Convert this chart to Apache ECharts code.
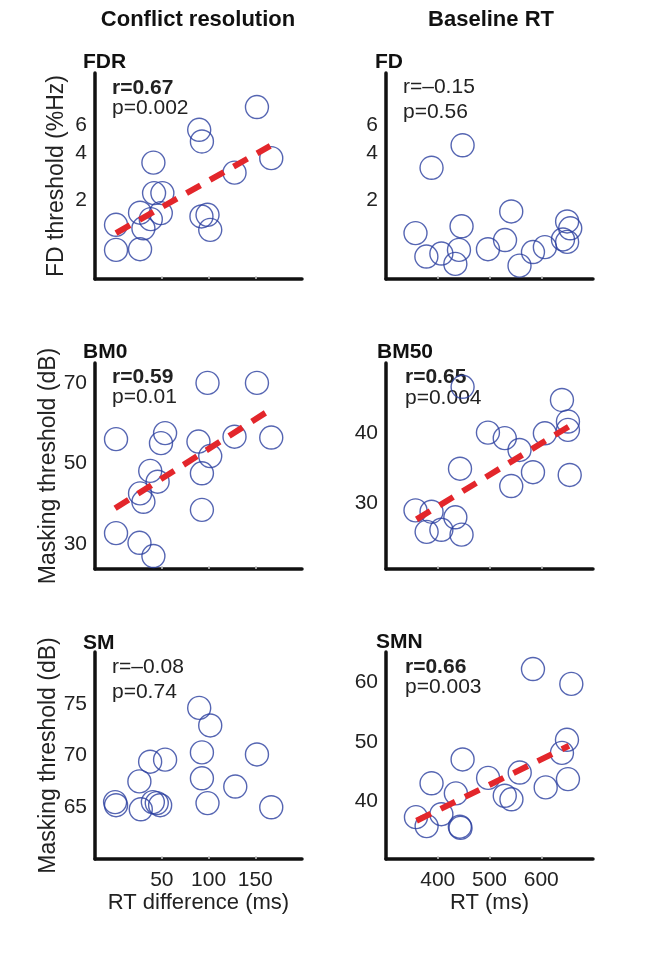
<!DOCTYPE html>
<html><head><meta charset="utf-8">
<script src="https://cdn.jsdelivr.net/npm/echarts@6/dist/echarts.min.js"></script>
<style>html,body{margin:0;padding:0;background:#fff}#c{width:664px;height:967px}</style>
</head><body><div id="c"></div><script>
const FONT = '"Liberation Sans", Arial, Helvetica, sans-serif';
const columnHeaders = ['Conflict resolution', 'Baseline RT'];
const panelTitles = ['FDR', 'FD', 'BM0', 'BM50', 'SM', 'SMN'];
const statR = ['r=0.67', 'r=–0.15', 'r=0.59', 'r=0.65', 'r=–0.08', 'r=0.66'];
const statP = ['p=0.002', 'p=0.56', 'p=0.01', 'p=0.004', 'p=0.74', 'p=0.003'];
const significant = [true, false, true, true, false, true];
const yNames = ['FD threshold (%Hz)', 'Masking threshold (dB)', 'Masking threshold (dB)'];
const xNames = ['RT difference (ms)', 'RT (ms)'];

const xTicksLeft = [50, 100, 150];
const xTicksRight = [400, 500, 600];
const yTicks = [[2, 4, 6], [2, 4, 6], [30, 50, 70], [30, 40], [65, 70, 75], [40, 50, 60]];

// FDR
const fdrX = [1, 1, 26.7, 26.7, 30.3, 38.2, 48.9, 41.0, 41.7, 50.6, 90.0, 92.9, 92.4, 98.9, 101.8, 127.8, 151.8, 167.1];
const fdrY = [1.41, 0.98, 0.99, 1.68, 1.34, 1.53, 1.67, 3.47, 2.23, 2.23, 5.58, 4.71, 1.59, 1.63, 1.31, 3.0, 7.76, 3.70];
const fdrFitX = [1, 166];
const fdrFitY = [1.25, 4.42];
// FD
const fdX = [357, 378, 388, 407, 434, 441, 446, 448, 497, 530, 542, 558, 584, 607, 642, 650, 656, 650];
const fdY = [1.25, 0.89, 3.22, 0.93, 0.80, 0.98, 1.38, 4.46, 0.99, 1.13, 1.71, 0.78, 0.95, 1.02, 1.14, 1.48, 1.34, 1.10];
// BM0
const bm0X = [1, 1, 26.1, 41.0, 26.7, 30.3, 37.6, 45.5, 49.1, 53.5, 89.2, 98.9, 101.8, 92.9, 92.9, 127.8, 151.8, 167.1];
const bm0Y = [56.1, 32.7, 30.3, 27.0, 42.6, 40.5, 48.2, 45.5, 55.1, 57.6, 55.5, 70.1, 51.9, 47.6, 38.5, 56.7, 70.1, 56.5];
const bm0FitX = [0, 166];
const bm0FitY = [38.9, 63.4];
// BM50
const bm50X = [357, 378.5, 388, 407, 434, 446, 443, 448, 497, 529.5, 558, 542, 584, 607, 640, 651.6, 651.6, 655];
const bm50Y = [28.9, 25.8, 28.7, 26.1, 27.9, 25.4, 34.9, 46.7, 40.1, 39.3, 37.6, 32.4, 34.4, 40.0, 44.8, 41.7, 40.5, 34.0];
const bm50FitX = [359, 656];
const bm50FitY = [27.6, 41.1];
// SM
const smX = [0, 1, 26, 27.5, 37.5, 40.4, 44.6, 48.2, 53.5, 90, 101.8, 92.9, 92.9, 98.9, 128.6, 151.8, 167.1];
const smY = [65.5, 65.2, 67.5, 64.8, 69.4, 65.5, 65.4, 65.2, 69.6, 74.6, 72.9, 70.3, 67.8, 65.4, 67.0, 70.1, 65.0];
// SMN
const smnX = [357.9, 378.5, 388, 407, 435, 442.7, 444, 448, 497.3, 529.5, 542.4, 558.4, 584, 608.6, 640, 649.7, 651.6, 658.1];
const smnY = [37.4, 35.9, 43.1, 37.9, 41.4, 35.8, 35.6, 47.1, 44.0, 41.0, 40.4, 44.9, 62.3, 42.4, 48.2, 50.4, 43.8, 59.8];
const smnFitX = [359, 653.5];
const smnFitY = [36.8, 49.4];

const pts = [[fdrX, fdrY], [fdX, fdY], [bm0X, bm0Y], [bm50X, bm50Y], [smX, smY], [smnX, smnY]];
const fits = [[fdrFitX, fdrFitY], null, [bm0FitX, bm0FitY], [bm50FitX, bm50FitY], null, [smnFitX, smnFitY]];

// layout
const colLeft = [95, 386];
const gridW = 207;
const rowTop = [73, 363, 652];
const rowH = [206, 206, 207];
const xRange = [[-21.5, 200], [300, 700]];
const yRange = [[0.643, 12.7], [0.643, 12.7], [23.78, 75.05], [20.45, 50.13], [60, 80], [30.37, 65.16]];
const yLog = [true, true, false, false, false, false];

const titlePos = [[83, 62], [375, 62], [83, 352], [377, 352], [83, 643], [376, 642]];
const rPos = [[112, 88], [403, 87], [112, 377], [405, 377], [112, 667], [405, 667]];
const pPos = [[112, 108], [403, 112], [112, 397], [405, 398], [112, 692], [405, 687]];

const BLUE = '#2b3e9f';
const RED = '#e3262b';
const AXIS = '#111';

const grids = [], xAxes = [], yAxes = [], series = [], graphics = [];
for (let i = 0; i < 6; i++) {
  const row = Math.floor(i / 2), col = i % 2;
  const bottom = row === 2;
  grids.push({left: colLeft[col], top: rowTop[row], width: gridW, height: rowH[row], containLabel: false});
  const xt = col === 0 ? xTicksLeft : xTicksRight;
  xAxes.push({
    gridIndex: i, type: 'value', min: xRange[col][0], max: xRange[col][1],
    axisLine: {show: true, onZero: false, lineStyle: {color: AXIS, width: 3.5}},
    splitLine: {show: false},
    axisTick: {show: true, inside: true, length: 3, customValues: xt, lineStyle: {color: '#c8c8c8', width: 1.5}},
    axisLabel: {show: bottom, customValues: xt, fontSize: 21, margin: 11, color: '#222', fontFamily: FONT},
    name: bottom ? xNames[col] : '', nameLocation: 'middle', nameGap: 33,
    nameTextStyle: {fontSize: 22, color: '#222', fontFamily: FONT}
  });
  yAxes.push({
    gridIndex: i, type: yLog[i] ? 'log' : 'value', logBase: 10, min: yRange[i][0], max: yRange[i][1],
    axisLine: {show: true, onZero: false, lineStyle: {color: AXIS, width: 3.5}},
    splitLine: {show: false}, minorTick: {show: false}, minorSplitLine: {show: false},
    axisTick: {show: false},
    axisLabel: {show: true, customValues: yTicks[i], fontSize: 21, margin: 8, color: '#222', fontFamily: FONT},
    name: col === 0 ? yNames[row] : '', nameLocation: 'middle', nameRotate: 90, nameGap: 27,
    nameTextStyle: {fontSize: 23, color: '#222', fontFamily: FONT}
  });
  const [px, py] = pts[i];
  series.push({
    type: 'scatter', xAxisIndex: i, yAxisIndex: i, silent: true,
    symbol: 'circle', symbolSize: 23,
    itemStyle: {color: 'rgba(0,0,0,0)', borderColor: BLUE, borderWidth: 1.4},
    data: px.map((v, k) => [v, py[k]]), z: 2
  });
  if (fits[i]) {
    const [fx, fy] = fits[i];
    series.push({
      type: 'line', xAxisIndex: i, yAxisIndex: i, silent: true, showSymbol: false, symbol: 'none',
      lineStyle: {color: RED, width: 6, type: [16, 11]},
      data: fx.map((v, k) => [v, fy[k]]), z: 3
    });
  }
  graphics.push({type: 'text', x: titlePos[i][0], y: titlePos[i][1],
    style: {text: panelTitles[i], font: 'bold 21px ' + FONT, fill: '#111', verticalAlign: 'middle', align: 'left'}});
  graphics.push({type: 'text', x: rPos[i][0], y: rPos[i][1],
    style: {text: statR[i], font: (significant[i] ? 'bold ' : '') + '21px ' + FONT, fill: '#222', verticalAlign: 'middle', align: 'left'}});
  graphics.push({type: 'text', x: pPos[i][0], y: pPos[i][1],
    style: {text: statP[i], font: '21px ' + FONT, fill: '#222', verticalAlign: 'middle', align: 'left'}});
}
graphics.push({type: 'text', x: 198, y: 20, style: {text: columnHeaders[0], font: 'bold 22px ' + FONT, fill: '#111', align: 'center', verticalAlign: 'middle'}});
graphics.push({type: 'text', x: 491, y: 20, style: {text: columnHeaders[1], font: 'bold 22px ' + FONT, fill: '#111', align: 'center', verticalAlign: 'middle'}});

const chart = echarts.init(document.getElementById('c'), null, {renderer: 'canvas'});
chart.setOption({
  backgroundColor: '#fff', animation: false,
  grid: grids, xAxis: xAxes, yAxis: yAxes, series: series, graphic: graphics
});
</script></body></html>
